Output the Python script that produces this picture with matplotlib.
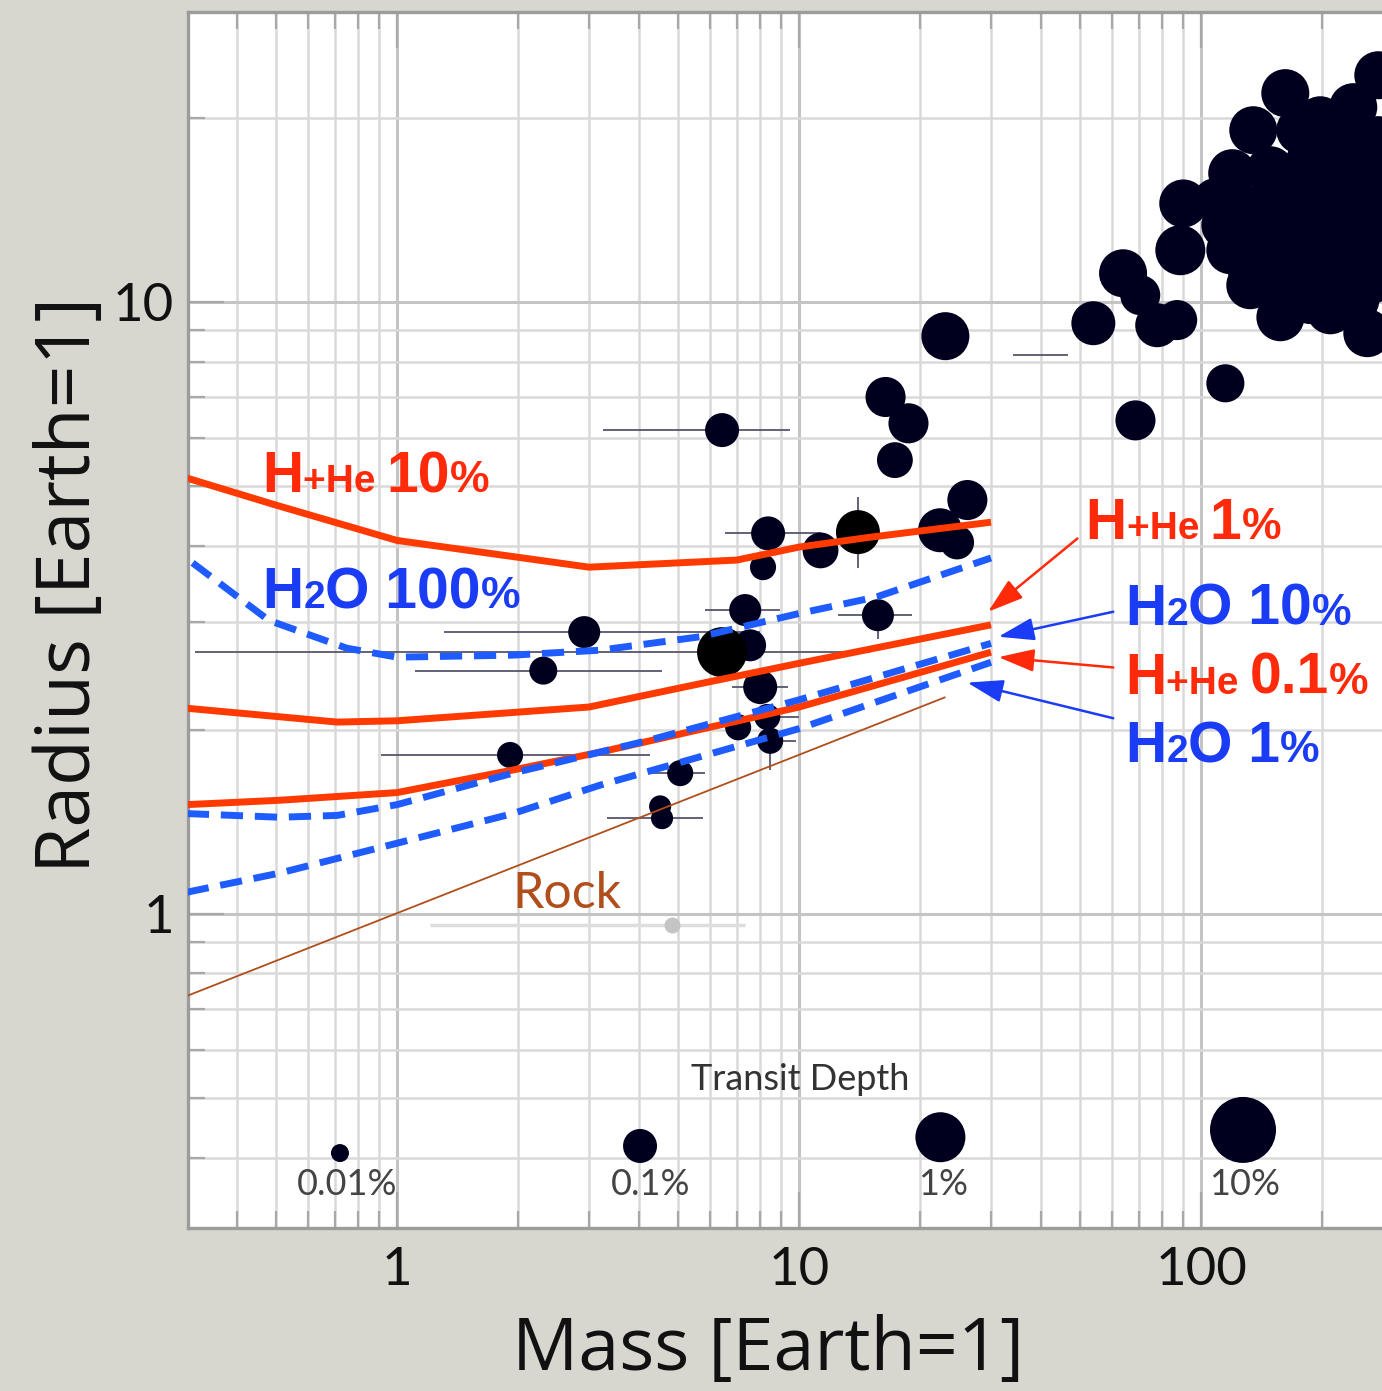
import numpy as np
import matplotlib
matplotlib.use("Agg")
import matplotlib.pyplot as plt
from matplotlib.ticker import LogLocator, NullFormatter, FixedLocator, FixedFormatter

plt.rcParams['font.family'] = ['Lato', 'DejaVu Sans']

# ---------------- data ----------------
# planets: mass [Earth], radius [Earth], transit depth [%]
planet_mass = [6.43, 23.1, 16.4, 18.7, 17.3, 26.2, 22.4, 24.7, 11.3, 8.37, 8.13, 7.34,
               15.7, 7.55, 2.92, 2.31, 8.0, 7.05, 8.33, 8.47, 1.91, 5.06, 4.51, 4.56,
               68.6, 114.8, 53.9, 77.7, 87.1, 63.9, 70.5, 90.2, 88.7, 258.8,
               161.8, 134.7, 119.4, 197.7, 238.8, 275.6, 148.5, 186.7, 234.8, 275.6,
               132.4, 166.4, 209.4, 263.2, 114.8, 118.1, 148.5, 186.7, 234.8, 275.6,
               132.4, 166.4, 209.4, 263.2, 157.3, 209.4,
               166.4, 209.4, 255.9, 132.4, 166.4, 209.4, 263.2, 132.4, 166.4, 209.4,
               263.2, 176.3, 221.7, 186.7, 241.6, 108.3]
planet_radius = [6.18, 8.80, 7.0, 6.34, 5.52, 4.75, 4.24, 4.05, 3.93, 4.19, 3.69, 3.14,
                 3.08, 2.75, 2.89, 2.50, 2.35, 2.02, 2.10, 1.92, 1.82, 1.70, 1.50, 1.435,
                 6.41, 7.37, 9.24, 9.17, 9.35, 11.15, 10.27, 14.5, 12.16, 8.90,
                 21.96, 19.1, 16.25, 19.83, 20.83, 23.49, 16.43, 17.06, 17.71, 18.40,
                 14.14, 14.14, 14.68, 15.24, 13.36, 12.16, 12.16, 12.39, 12.63, 13.11,
                 10.66, 10.46, 10.46, 10.86, 9.45, 9.70,
                 15.53, 15.94, 16.74, 13.11, 13.11, 13.51, 14.03, 11.49, 11.36, 11.49,
                 11.80, 19.1, 19.46, 10.08, 10.08, 14.68]
planet_depth = [0.1, 0.75, 0.24, 0.24, 0.13, 0.24, 0.42, 0.1, 0.13, 0.1, 0.032, 0.075,
                0.075, 0.075, 0.075, 0.042, 0.1, 0.032, 0.032, 0.032, 0.032, 0.032, 0.018, 0.018,
                0.24, 0.18, 0.42, 0.42, 0.24, 0.75, 0.24, 0.75, 1.0, 0.75,
                0.75, 0.75, 0.75, 0.75, 0.75, 0.75, 0.75, 0.75, 0.75, 0.75,
                0.75, 0.75, 0.75, 0.75, 0.75, 0.75, 0.75, 0.75, 0.75, 0.75,
                0.75, 0.75, 0.75, 0.75, 0.75, 0.75,
                0.75, 0.75, 0.75, 0.75, 0.75, 0.75, 0.75, 0.75, 0.75, 0.75,
                0.75, 0.75, 0.75, 0.75, 0.75, 0.42]

# highlighted (black) planets
black_mass = [14.0, 6.43]
black_radius = [4.21, 2.68]
black_depth = [0.42, 1.0]

# faint grey planet
grey_mass = [4.83]
grey_radius = [0.959]
grey_depth = [0.0075]
grey_mass_lo = [1.21]
grey_mass_hi = [7.34]

# error bars: centre, mass range, radius range
err_mass = [6.43, 8.37, 7.34, 15.7, 6.43, 2.92, 2.31, 8.0, 1.91, 5.06, 4.56, 8.47, 14.0, 40.4, 8.33]
err_radius = [6.18, 4.19, 3.14, 3.08, 2.68, 2.89, 2.50, 2.35, 1.82, 1.70, 1.435, 1.92, 4.21, 8.19, 2.10]
err_mass_lo = [3.25, 6.55, 5.84, 12.5, 0.314, 1.31, 1.11, 6.8, 0.91, 4.26, 3.33, 7.5, 14.0, 34.1, 7.3]
err_mass_hi = [9.5, 11.3, 8.97, 19.1, 15.0, 8.0, 4.56, 9.4, 4.26, 5.84, 5.77, 9.8, 14.0, 46.7, 10.0]
err_radius_lo = [6.18, 4.19, 3.14, 2.82, 2.68, 2.89, 2.50, 2.35, 1.82, 1.70, 1.435, 1.72, 3.68, 8.19, 2.10]
err_radius_hi = [6.18, 4.19, 3.14, 3.26, 2.68, 2.89, 2.50, 2.35, 1.82, 1.70, 1.435, 2.15, 4.80, 8.19, 2.10]

# model curves
hhe10_mass = [0.30, 0.5, 1.0, 3.0, 7.0, 10, 15, 30]
hhe10_radius = [5.16, 4.66, 4.08, 3.69, 3.79, 3.98, 4.13, 4.37]
h2o100_mass = [0.31, 0.48, 0.75, 1.0, 1.94, 3.2, 5.67, 10, 15.6, 30]
h2o100_radius = [3.75, 3.02, 2.72, 2.63, 2.65, 2.70, 2.84, 3.10, 3.30, 3.82]
hhe1_mass = [0.30, 0.71, 1.0, 3.0, 5.67, 10, 30]
hhe1_radius = [2.17, 2.06, 2.07, 2.18, 2.38, 2.57, 2.97]
hhe01_mass = [0.30, 0.51, 1.0, 1.94, 3.2, 10, 30]
hhe01_radius = [1.51, 1.535, 1.58, 1.72, 1.84, 2.18, 2.68]
h2o10_mass = [0.30, 0.51, 0.71, 1.0, 1.94, 4.18, 10, 30]
h2o10_radius = [1.46, 1.44, 1.45, 1.51, 1.70, 1.92, 2.24, 2.77]
h2o1_mass = [0.30, 0.51, 1.0, 1.94, 3.2, 10, 30]
h2o1_radius = [1.086, 1.167, 1.306, 1.46, 1.625, 2.01, 2.58]
rock_mass = [0.30, 23]
rock_radius = [0.735, 2.26]

# transit-depth legend
legend_depth = [0.01, 0.1, 1, 10]
legend_labels = ['0.01%', '0.1%', '1%', '10%']
legend_mass = [0.721, 4.02, 22.45, 127]
legend_radius = [0.407, 0.418, 0.432, 0.444]
legend_label_mass = [0.751, 4.26, 22.8, 128]

x_ticks = [1, 10, 100]
x_ticklabels = ['1', '10', '100']
y_ticks = [1, 10]
y_ticklabels = ['1', '10']

# ---------------- styling ----------------
DPI = 100
W, H = 1382, 1391
RED = '#ff3a00'
RED_TXT = '#ff2a0a'
BLUE = '#1f5cff'
BLUE_TXT = '#1a3cf5'
DOT = '#00001e'


def depth_to_size(d):
    r_px = 25 + 8 * np.log10(np.asarray(d, dtype=float))
    return (2 * r_px * 72.0 / DPI) ** 2


fig = plt.figure(figsize=(W / DPI, H / DPI), dpi=DPI)
fig.patch.set_facecolor('#d7d6cf')
ax = fig.add_axes([188 / W, (H - 1228) / H, 1208 / W, 1216 / H])
ax.set_facecolor('white')
ax.set_xscale('log')
ax.set_yscale('log')
ax.set_xlim(0.302, 305)
ax.set_ylim(0.307, 29.8)

ax.xaxis.set_major_locator(FixedLocator(x_ticks))
ax.xaxis.set_major_formatter(FixedFormatter(x_ticklabels))
ax.yaxis.set_major_locator(FixedLocator(y_ticks))
ax.yaxis.set_major_formatter(FixedFormatter(y_ticklabels))
ax.xaxis.set_minor_locator(LogLocator(base=10, subs=np.arange(2, 10)))
ax.yaxis.set_minor_locator(LogLocator(base=10, subs=np.arange(2, 10)))
ax.xaxis.set_minor_formatter(NullFormatter())
ax.yaxis.set_minor_formatter(NullFormatter())

ax.set_axisbelow(True)
ax.grid(True, which='major', color='#c4c4c4', lw=2.2)
ax.grid(True, which='minor', color='#d9d9d9', lw=1.8)

ax.tick_params(which='both', direction='in', top=True, bottom=True, left=True, right=False,
               color='#a8a8a8', width=1.6)
ax.tick_params(which='major', length=26)
ax.tick_params(which='minor', length=12)
ax.tick_params(axis='x', which='major', labelsize=38, pad=14, labelcolor='#111111')
ax.tick_params(axis='y', which='major', labelsize=38, pad=10, labelcolor='#111111')
for sp in ['left', 'top', 'bottom']:
    ax.spines[sp].set_color('#9c9c9c')
    ax.spines[sp].set_linewidth(2.4)
ax.spines['right'].set_visible(False)

ax.set_xlabel('Mass [Earth=1]', fontsize=53, color='#111111', family=['Open Sans', 'DejaVu Sans'])
ax.set_ylabel('Radius [Earth=1]', fontsize=54, color='#111111', family=['Open Sans', 'DejaVu Sans'])
ax.xaxis.set_label_coords(0.48, -0.071)
ax.yaxis.set_label_coords(-0.066, 0.529)

# error bars
for m, r, mlo, mhi, rlo, rhi in zip(err_mass, err_radius, err_mass_lo, err_mass_hi,
                                     err_radius_lo, err_radius_hi):
    ax.errorbar([m], [r], xerr=[[m - mlo], [mhi - m]], yerr=[[r - rlo], [rhi - r]],
                fmt='none', ecolor='#55566e', elinewidth=1.3, capsize=0, zorder=2)
ax.errorbar(grey_mass, grey_radius,
            xerr=[[grey_mass[0] - grey_mass_lo[0]], [grey_mass_hi[0] - grey_mass[0]]],
            fmt='none', ecolor='#dedede', elinewidth=2.5, capsize=0, zorder=2)

# planets
ax.scatter(grey_mass, grey_radius, s=depth_to_size(grey_depth), color='#c4c4c4',
           linewidths=0, zorder=3)
ax.scatter(planet_mass, planet_radius, s=depth_to_size(planet_depth), color=DOT,
           linewidths=0, zorder=3)
ax.scatter(black_mass, black_radius, s=depth_to_size(black_depth), color='#000000',
           linewidths=0, zorder=3)

# model curves
ax.plot(rock_mass, rock_radius, color='#b04e1c', lw=1.3, zorder=4)
for mm, rr in [(hhe10_mass, hhe10_radius), (hhe1_mass, hhe1_radius), (hhe01_mass, hhe01_radius)]:
    ax.plot(mm, rr, color=RED, lw=5, zorder=5, solid_capstyle='butt')
for mm, rr in [(h2o100_mass, h2o100_radius), (h2o10_mass, h2o10_radius), (h2o1_mass, h2o1_radius)]:
    ax.plot(mm, rr, color=BLUE, lw=5, zorder=5, linestyle=(0, (3.2, 1.7)), dash_capstyle='butt')

ax.text(2.65, 1.08, 'Rock', fontsize=36, color='#b04e1c', ha='center', va='center', zorder=6)

# legend for transit depth
ax.scatter(legend_mass, legend_radius, s=depth_to_size(legend_depth), color=DOT,
           linewidths=0, zorder=3)
for m, lab in zip(legend_label_mass, legend_labels):
    ax.text(m, 0.361, lab, fontsize=26, color='#444444', ha='center', va='center', zorder=6)
ax.text(10.05, 0.537, 'Transit Depth', fontsize=26, color='#333333', ha='center',
        va='center', zorder=6)

# labels built of mixed-size pieces
renderer = fig.canvas.get_renderer()


def rich(xy, parts, color):
    off = 0.0
    for s, size in parts:
        t = ax.annotate(s, xy=xy, xycoords='data', xytext=(off, 0), textcoords='offset points',
                        fontsize=size, color=color, fontweight='bold',
                        family=['Liberation Sans', 'DejaVu Sans'], ha='left', va='baseline',
                        zorder=7)
        off += t.get_window_extent(renderer).width * 72.0 / DPI


BIG, SMALL, PCT = 41, 28, 32
rich((0.462, 4.89), [('H', BIG), ('+He ', SMALL), ('10', BIG), ('%', PCT)], RED_TXT)
rich((0.462, 3.16), [('H', BIG), ('2', SMALL), ('O 100', BIG), ('%', PCT)], BLUE_TXT)
rich((51.5, 4.11), [('H', BIG), ('+He ', SMALL), ('1', BIG), ('%', PCT)], RED_TXT)
rich((64.7, 2.97), [('H', BIG), ('2', SMALL), ('O 10', BIG), ('%', PCT)], BLUE_TXT)
rich((64.7, 2.29), [('H', BIG), ('+He ', SMALL), ('0.1', BIG), ('%', PCT)], RED_TXT)
rich((64.7, 1.77), [('H', BIG), ('2', SMALL), ('O 1', BIG), ('%', PCT)], BLUE_TXT)

# arrows
arrows = [((49.2, 4.11), (29.5, 3.12), RED_TXT),
          ((60.4, 3.12), (31.3, 2.84), BLUE_TXT),
          ((60.4, 2.53), (31.3, 2.63), RED_TXT),
          ((60.4, 2.09), (26.2, 2.39), BLUE_TXT)]
for tail, tip, col in arrows:
    ax.annotate('', xy=tip, xytext=tail, xycoords='data',
                arrowprops=dict(arrowstyle='-|>,head_length=1.1,head_width=0.35', color=col,
                                lw=1.8, mutation_scale=20, shrinkA=0, shrinkB=0), zorder=7)

fig.savefig('out.png', dpi=DPI, facecolor=fig.get_facecolor())
